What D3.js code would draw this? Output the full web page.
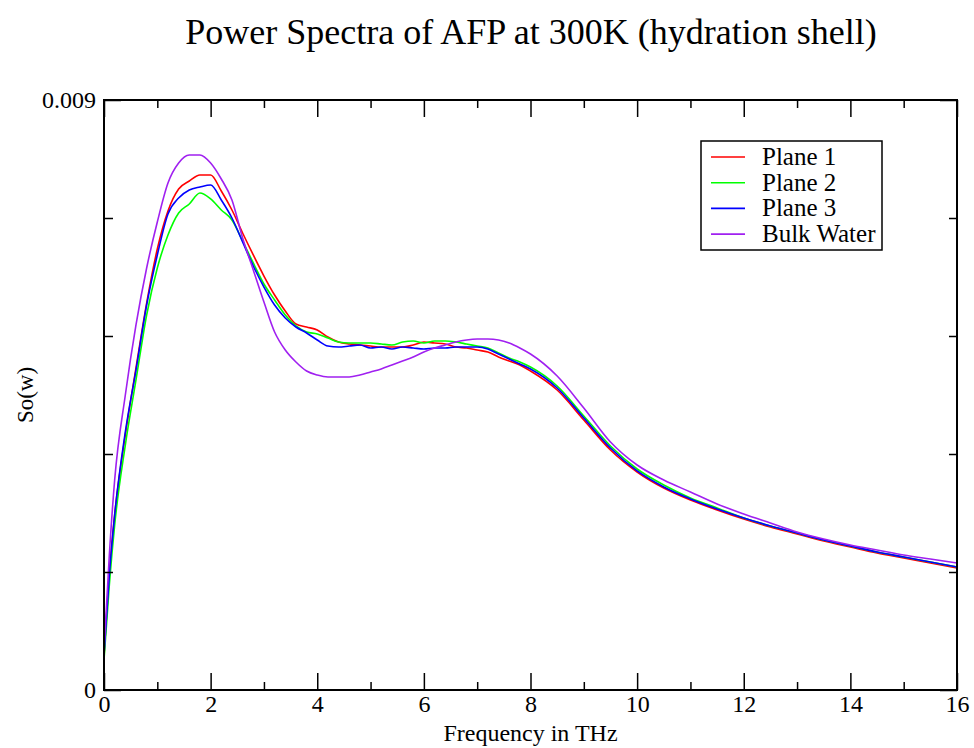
<!DOCTYPE html>
<html>
<head>
<meta charset="utf-8">
<script src="https://cdn.jsdelivr.net/npm/d3@7"></script>
<style>
  html, body { margin: 0; padding: 0; background: #fff; }
  svg { display: block; }
  text { font-family: "Liberation Serif", "DejaVu Serif", serif; fill: #000; }
</style>
</head>
<body>
<svg id="chart" width="974" height="748"></svg>
<script>
// ---- data ----
const freq = [0, 0.1, 0.2, 0.4, 0.6, 0.8, 1.0, 1.2, 1.4, 1.6, 1.8, 2.0, 2.2, 2.4, 2.6, 2.8, 3.0,
  3.2, 3.4, 3.6, 3.8, 4.0, 4.2, 4.4, 4.6, 4.8, 5.0, 5.2, 5.4, 5.6, 5.8, 6.0, 6.2, 6.4, 6.6, 6.8,
  7.0, 7.2, 7.4, 7.6, 7.8, 8.0, 8.5, 9.0, 9.5, 10.0, 10.5, 11.0, 11.5, 12.0, 12.5, 13.0, 13.5,
  14.0, 14.5, 15.0, 15.5, 16.0];

const plane1 = [0.000503, 0.001785, 0.002669, 0.003890, 0.004912, 0.005903, 0.006727, 0.007307,
  0.007642, 0.007764, 0.007856, 0.007856, 0.007612, 0.007322, 0.006971, 0.006636, 0.006315,
  0.006025, 0.005781, 0.005583, 0.005537, 0.005492, 0.005385, 0.005308, 0.005278, 0.005263,
  0.005247, 0.005232, 0.005232, 0.005232, 0.005263, 0.005308, 0.005293, 0.005278, 0.005232,
  0.005217, 0.005186, 0.005156, 0.005080, 0.005019, 0.004958, 0.004866, 0.004576, 0.004119,
  0.003661, 0.003325, 0.003081, 0.002898, 0.002746, 0.002608, 0.002486, 0.002380, 0.002273,
  0.002181, 0.002090, 0.002014, 0.001937, 0.001861];

const plane2 = [0.000458, 0.001602, 0.002517, 0.003737, 0.004729, 0.005720, 0.006437, 0.006941,
  0.007276, 0.007414, 0.007581, 0.007490, 0.007322, 0.007169, 0.006849, 0.006514, 0.006193,
  0.005949, 0.005720, 0.005553, 0.005461, 0.005431, 0.005369, 0.005308, 0.005293, 0.005293,
  0.005293, 0.005278, 0.005263, 0.005308, 0.005324, 0.005293, 0.005324, 0.005324, 0.005308,
  0.005278, 0.005247, 0.005217, 0.005141, 0.005064, 0.005003, 0.004927, 0.004637, 0.004180,
  0.003722, 0.003371, 0.003127, 0.002929, 0.002776, 0.002624, 0.002502, 0.002395, 0.002288,
  0.002197, 0.002105, 0.002029, 0.001953, 0.001876];

const plane3 = [0.000534, 0.001754, 0.002669, 0.003936, 0.004881, 0.005873, 0.006636, 0.007261,
  0.007505, 0.007627, 0.007673, 0.007703, 0.007475, 0.007200, 0.006834, 0.006468, 0.006147,
  0.005873, 0.005675, 0.005537, 0.005446, 0.005339, 0.005247, 0.005232, 0.005247, 0.005263,
  0.005217, 0.005232, 0.005202, 0.005232, 0.005217, 0.005202, 0.005217, 0.005217, 0.005232,
  0.005232, 0.005232, 0.005202, 0.005125, 0.005049, 0.004973, 0.004897, 0.004607, 0.004149,
  0.003692, 0.003341, 0.003097, 0.002914, 0.002761, 0.002624, 0.002502, 0.002395, 0.002288,
  0.002197, 0.002105, 0.002029, 0.001953, 0.001876];

const bulkWater = [0.000595, 0.002059, 0.003203, 0.004500, 0.005568, 0.006437, 0.007139, 0.007734,
  0.008039, 0.008161, 0.008161, 0.008039, 0.007795, 0.007475, 0.006895, 0.006407, 0.005919,
  0.005461, 0.005186, 0.005003, 0.004866, 0.004805, 0.004775, 0.004775, 0.004775, 0.004805,
  0.004851, 0.004897, 0.004958, 0.005019, 0.005080, 0.005156, 0.005217, 0.005263, 0.005308,
  0.005339, 0.005354, 0.005354, 0.005339, 0.005293, 0.005217, 0.005125, 0.004790, 0.004302,
  0.003783, 0.003432, 0.003203, 0.003020, 0.002837, 0.002685, 0.002547, 0.002410, 0.002303,
  0.002212, 0.002136, 0.002059, 0.001998, 0.001937];

const seriesNames = ["Plane 1", "Plane 2", "Plane 3", "Bulk Water"];
const seriesColors = ["#ff0000", "#00ff00", "#0000ff", "#a020f0"];
const xMajorTicks = [0, 2, 4, 6, 8, 10, 12, 14, 16];
const xMinorTicks = [1, 3, 5, 7, 9, 11, 13, 15];
const yMajorTicks = [0, 0.009];
const yMinorTicks = [0.0018, 0.0036, 0.0054, 0.0072];
const yTickLabels = ["0", "0.009"];

// ---- layout ----
const svg = d3.select("#chart");
const L = 104, R = 957, T = 100, B = 690;

const x = d3.scaleLinear().domain([0, 16]).range([L, R]);
const y = d3.scaleLinear().domain([0, 0.009]).range([B, T]);

// title
svg.append("text")
  .attr("x", 531).attr("y", 44)
  .attr("text-anchor", "middle")
  .style("font-size", "36px")
  .text("Power Spectra of AFP at 300K (hydration shell)");

// series lines
const allSeries = [plane1, plane2, plane3, bulkWater];
const line = d3.line().x((d, i) => x(freq[i])).y(d => y(d)).curve(d3.curveMonotoneX);
const plotG = svg.append("g");
allSeries.forEach((s, k) => {
  plotG.append("path")
    .datum(s)
    .attr("fill", "none")
    .attr("stroke", seriesColors[k])
    .attr("stroke-width", 1.6)
    .attr("stroke-linejoin", "round")
    .attr("d", line);
});

// axes (ticks inward)
function styleAxis(g) {
  g.select(".domain").remove();
  g.selectAll(".tick line").attr("stroke", "#000").attr("stroke-width", 1.5);
  g.selectAll(".tick text").style("font-family", '"Liberation Serif", serif').style("font-size", "24px").attr("fill", "#000");
}

// bottom
svg.append("g").attr("transform", `translate(0,${B})`)
  .call(d3.axisBottom(x).tickValues(xMajorTicks).tickSize(-17).tickPadding(5).tickFormat(d3.format("d")))
  .call(styleAxis);
svg.append("g").attr("transform", `translate(0,${B})`)
  .call(d3.axisBottom(x).tickValues(xMinorTicks).tickSize(-8).tickFormat(""))
  .call(styleAxis);
// top
svg.append("g").attr("transform", `translate(0,${T})`)
  .call(d3.axisTop(x).tickValues(xMajorTicks).tickSize(-17).tickFormat(""))
  .call(styleAxis);
svg.append("g").attr("transform", `translate(0,${T})`)
  .call(d3.axisTop(x).tickValues(xMinorTicks).tickSize(-8).tickFormat(""))
  .call(styleAxis);
// left
svg.append("g").attr("transform", `translate(${L},0)`)
  .call(d3.axisLeft(y).tickValues(yMajorTicks).tickSize(-17).tickPadding(8)
    .tickFormat((d, i) => yTickLabels[i]))
  .call(styleAxis);
svg.append("g").attr("transform", `translate(${L},0)`)
  .call(d3.axisLeft(y).tickValues(yMinorTicks).tickSize(-9).tickFormat(""))
  .call(styleAxis);
// right
svg.append("g").attr("transform", `translate(${R},0)`)
  .call(d3.axisRight(y).tickValues(yMajorTicks).tickSize(-17).tickFormat(""))
  .call(styleAxis);
svg.append("g").attr("transform", `translate(${R},0)`)
  .call(d3.axisRight(y).tickValues(yMinorTicks).tickSize(-8).tickFormat(""))
  .call(styleAxis);

// frame
svg.append("rect")
  .attr("x", L).attr("y", T).attr("width", R - L).attr("height", B - T)
  .attr("fill", "none").attr("stroke", "#000").attr("stroke-width", 2);

// axis labels
svg.append("text")
  .attr("x", (L + R) / 2).attr("y", 741)
  .attr("text-anchor", "middle")
  .style("font-size", "24px")
  .text("Frequency in THz");
svg.append("text")
  .attr("transform", `translate(33,${(T + B) / 2}) rotate(-90)`)
  .attr("text-anchor", "middle")
  .style("font-size", "23px")
  .text("So(w)");

// legend
const lg = svg.append("g");
lg.append("rect")
  .attr("x", 701).attr("y", 141).attr("width", 181).attr("height", 109)
  .attr("fill", "#fff").attr("stroke", "#000").attr("stroke-width", 1.5);
seriesNames.forEach((name, k) => {
  const yy = 157 + k * 25.7;
  lg.append("line")
    .attr("x1", 711).attr("x2", 745).attr("y1", yy).attr("y2", yy)
    .attr("stroke", seriesColors[k]).attr("stroke-width", 1.6);
  lg.append("text")
    .attr("x", 762).attr("y", yy + 8)
    .style("font-size", "25px")
    .text(name);
});
</script>
</body>
</html>
